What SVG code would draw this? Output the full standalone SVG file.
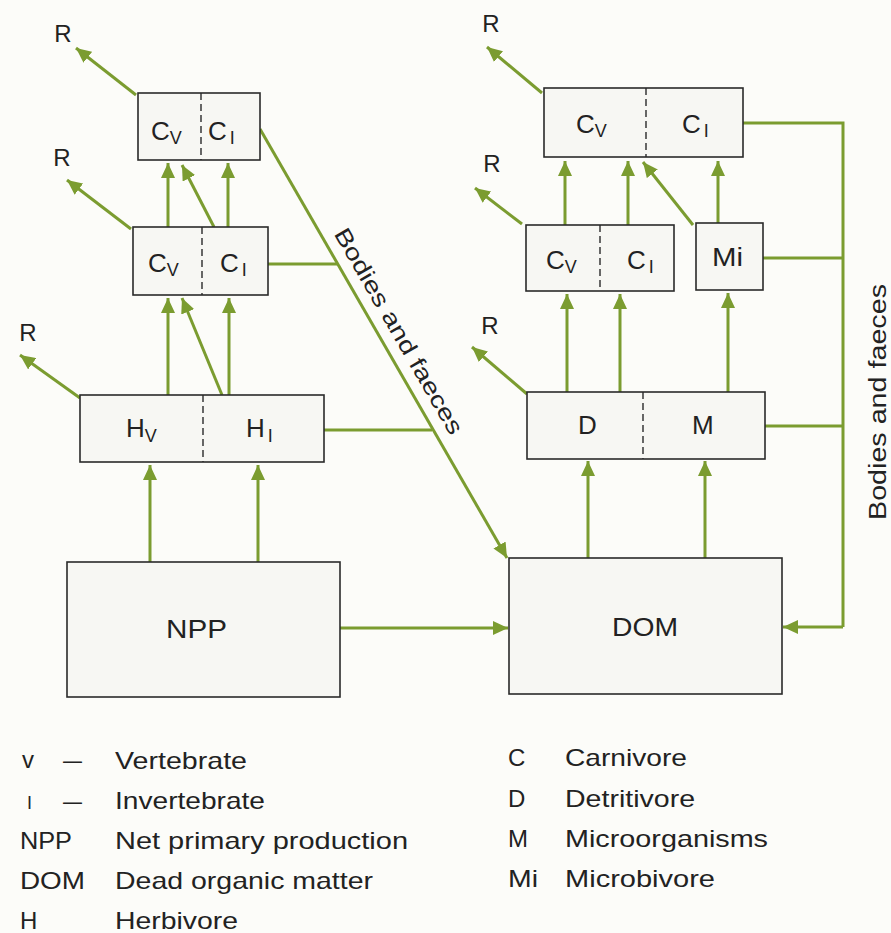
<svg xmlns="http://www.w3.org/2000/svg" width="891" height="933" viewBox="0 0 891 933">
<defs>
<marker id="ah" markerUnits="userSpaceOnUse" markerWidth="16" markerHeight="14" refX="15" refY="7" orient="auto">
<path d="M0,0 L15,7 L0,14 z" fill="#7b9c30"/>
</marker>
<style>
.box{fill:#f7f7f3;stroke:#2a2a2a;stroke-width:1.6}
.div{stroke:#2a2a2a;stroke-width:1.4;stroke-dasharray:7,4}
.c{stroke:#7b9c30;stroke-width:3;fill:none}
.a{stroke:#7b9c30;stroke-width:3;fill:none;marker-end:url(#ah)}
text{font-family:"Liberation Sans",Arial,sans-serif;fill:#222}
.lbl{font-size:26px}
.sub{font-size:18px}
.r{font-size:24px;text-anchor:middle}
.lg{font-size:24px}
.lgs{font-size:18px}
.bf{font-size:23px;text-anchor:middle}
</style>
</defs>
<rect width="891" height="933" fill="#fcfcf9"/>

<g id="connectors">
<line class="a" x1="136" y1="95" x2="76" y2="48"/>
<line class="a" x1="131" y1="229" x2="67" y2="180"/>
<line class="a" x1="80" y1="398" x2="20" y2="355"/>
<line class="a" x1="542" y1="93" x2="487" y2="47"/>
<line class="a" x1="522" y1="224" x2="475" y2="188"/>
<line class="a" x1="527" y1="394" x2="472" y2="347"/>
<line class="a" x1="168" y1="227" x2="168" y2="163"/>
<line class="a" x1="214" y1="227" x2="182" y2="165"/>
<line class="a" x1="228" y1="227" x2="228" y2="163"/>
<line class="a" x1="168" y1="395" x2="168" y2="298"/>
<line class="a" x1="222" y1="395" x2="182" y2="298"/>
<line class="a" x1="229" y1="395" x2="229" y2="298"/>
<line class="a" x1="150" y1="562" x2="150" y2="465"/>
<line class="a" x1="258" y1="562" x2="258" y2="465"/>
<line class="a" x1="340" y1="628" x2="508" y2="628"/>
<line class="a" x1="260" y1="129" x2="507" y2="558"/>
<line class="c" x1="268" y1="264" x2="337" y2="264"/>
<line class="c" x1="324" y1="430" x2="432" y2="430"/>
<line class="a" x1="565" y1="225" x2="565" y2="161"/>
<line class="a" x1="628" y1="225" x2="628" y2="161"/>
<line class="a" x1="693" y1="225" x2="643" y2="162"/>
<line class="a" x1="718" y1="223" x2="718" y2="161"/>
<line class="a" x1="567" y1="392" x2="567" y2="294"/>
<line class="a" x1="620" y1="392" x2="620" y2="294"/>
<line class="a" x1="728" y1="392" x2="728" y2="293"/>
<line class="a" x1="588" y1="558" x2="588" y2="461"/>
<line class="a" x1="705" y1="558" x2="705" y2="461"/>
<polyline class="c" points="743,123 843,123 843,627"/>
<line class="c" x1="763" y1="258" x2="843" y2="258"/>
<line class="c" x1="765" y1="426" x2="843" y2="426"/>
<line class="a" x1="843" y1="627" x2="783" y2="627"/>
</g>

<g id="r-labels">
<text class="r" x="63" y="42">R</text>
<text class="r" x="62" y="166">R</text>
<text class="r" x="28" y="341">R</text>
<text class="r" x="491" y="32">R</text>
<text class="r" x="492" y="172">R</text>
<text class="r" x="490" y="334">R</text>
</g>

<g id="flow-labels">
<text class="bf" transform="translate(392,335) rotate(60)" textLength="234" lengthAdjust="spacingAndGlyphs">Bodies and faeces</text>
<text class="bf" transform="translate(886,402) rotate(-90)" textLength="236" lengthAdjust="spacingAndGlyphs">Bodies and faeces</text>
</g>

<g id="left-c-top">
<rect class="box" x="138" y="93" width="122" height="67"/>
<line class="div" x1="201" y1="93" x2="201" y2="160"/>
<text class="lbl" x="151" y="140">C<tspan class="sub" dy="4">V</tspan></text>
<text class="lbl" x="208" y="140">C<tspan class="sub" dx="3" dy="4">I</tspan></text>
</g>

<g id="left-c-mid">
<rect class="box" x="133" y="227" width="135" height="68"/>
<line class="div" x1="202" y1="227" x2="202" y2="295"/>
<text class="lbl" x="148" y="272">C<tspan class="sub" dy="4">V</tspan></text>
<text class="lbl" x="220" y="272">C<tspan class="sub" dx="3" dy="4">I</tspan></text>
</g>

<g id="herbivores">
<rect class="box" x="80" y="395" width="244" height="67"/>
<line class="div" x1="203" y1="395" x2="203" y2="462"/>
<text class="lbl" x="126" y="437">H<tspan class="sub" dy="5">V</tspan></text>
<text class="lbl" x="246" y="437">H<tspan class="sub" dx="3" dy="5">I</tspan></text>
</g>

<g id="npp">
<rect class="box" x="67" y="562" width="273" height="135"/>
<text class="lbl" x="166" y="638" textLength="61" lengthAdjust="spacingAndGlyphs">NPP</text>
</g>

<g id="right-c-top">
<rect class="box" x="544" y="88" width="199" height="69"/>
<line class="div" x1="646" y1="88" x2="646" y2="157"/>
<text class="lbl" x="576" y="133">C<tspan class="sub" dy="4">V</tspan></text>
<text class="lbl" x="682" y="133">C<tspan class="sub" dx="3" dy="4">I</tspan></text>
</g>

<g id="right-c-mid">
<rect class="box" x="526" y="225" width="148" height="66"/>
<line class="div" x1="600" y1="225" x2="600" y2="291"/>
<text class="lbl" x="546" y="269">C<tspan class="sub" dy="4">V</tspan></text>
<text class="lbl" x="627" y="269">C<tspan class="sub" dx="3" dy="4">I</tspan></text>
</g>

<g id="mi">
<rect class="box" x="696" y="223" width="67" height="67"/>
<text class="lbl" x="712" y="266" textLength="31" lengthAdjust="spacingAndGlyphs">Mi</text>
</g>

<g id="dm">
<rect class="box" x="527" y="392" width="238" height="67"/>
<line class="div" x1="643" y1="392" x2="643" y2="459"/>
<text class="lbl" x="578" y="434">D</text>
<text class="lbl" x="692" y="434">M</text>
</g>

<g id="dom">
<rect class="box" x="509" y="558" width="273" height="136"/>
<text class="lbl" x="612" y="636" textLength="66" lengthAdjust="spacingAndGlyphs">DOM</text>
</g>

<g id="legend">
<text class="lg" x="22" y="768">v</text>
<text class="lg" x="63" y="768" textLength="19" lengthAdjust="spacingAndGlyphs">–</text>
<text class="lg" x="115" y="769" textLength="132" lengthAdjust="spacingAndGlyphs">Vertebrate</text>
<text class="lgs" x="27" y="809">I</text>
<text class="lg" x="63" y="809" textLength="19" lengthAdjust="spacingAndGlyphs">–</text>
<text class="lg" x="115" y="809" textLength="150" lengthAdjust="spacingAndGlyphs">Invertebrate</text>
<text class="lg" x="20" y="849" textLength="52" lengthAdjust="spacingAndGlyphs">NPP</text>
<text class="lg" x="115" y="849" textLength="293" lengthAdjust="spacingAndGlyphs">Net primary production</text>
<text class="lg" x="20" y="889" textLength="65" lengthAdjust="spacingAndGlyphs">DOM</text>
<text class="lg" x="115" y="889" textLength="258" lengthAdjust="spacingAndGlyphs">Dead organic matter</text>
<text class="lg" x="20" y="929">H</text>
<text class="lg" x="115" y="929" textLength="123" lengthAdjust="spacingAndGlyphs">Herbivore</text>
<text class="lg" x="508" y="766">C</text>
<text class="lg" x="565" y="766" textLength="122" lengthAdjust="spacingAndGlyphs">Carnivore</text>
<text class="lg" x="508" y="807">D</text>
<text class="lg" x="565" y="807" textLength="130" lengthAdjust="spacingAndGlyphs">Detritivore</text>
<text class="lg" x="508" y="847">M</text>
<text class="lg" x="565" y="847" textLength="203" lengthAdjust="spacingAndGlyphs">Microorganisms</text>
<text class="lg" x="508" y="887" textLength="30" lengthAdjust="spacingAndGlyphs">Mi</text>
<text class="lg" x="565" y="887" textLength="150" lengthAdjust="spacingAndGlyphs">Microbivore</text>
</g>
</svg>
